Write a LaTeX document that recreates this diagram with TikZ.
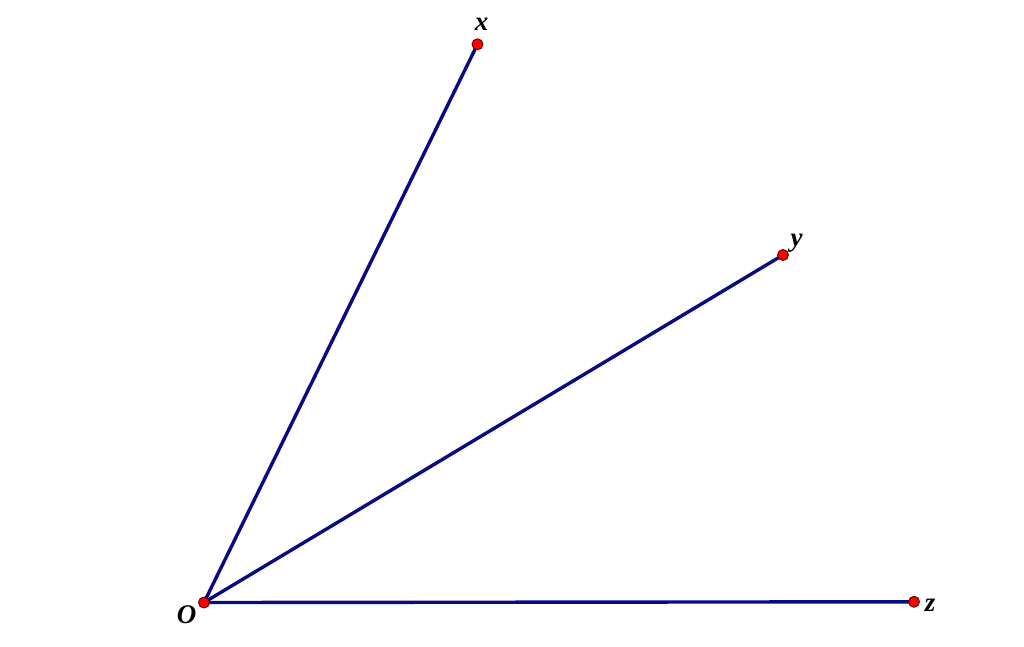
\documentclass[tikz,border=0pt]{standalone}
\usepackage{fontspec}
\setmainfont{Liberation Serif}
\begin{document}
\begin{tikzpicture}[x=1pt,y=-1pt,
  ray/.style={draw={rgb,255:red,10;green,10;blue,130}, line width=3.4pt},
  pt/.style={circle, fill=red, draw={rgb,255:red,90;green,0;blue,0}, line width=0.9pt, inner sep=0pt, minimum size=11pt},
  lbl/.style={font=\fontsize{27}{27}\selectfont\bfseries\itshape, inner sep=0pt}]
\useasboundingbox (0,0) rectangle (1024,647);
\coordinate (O) at (204,602.5);
\coordinate (X) at (477.5,44.3);
\coordinate (Y) at (783,255);
\coordinate (Z) at (914,601.8);
\draw[ray] (O) -- (X);
\draw[ray] (O) -- (Y);
\draw[ray] (O) -- (Z);
\node[pt] (o) at (O) {};
\node[pt] (x) at (X) {};
\node[pt] (y) at (Y) {};
\node[pt] (z) at (Z) {};
\node[lbl] (lo) at (186.5,615) {O};
\node[lbl] (lx) at (481.5,24) {x};
\node[lbl] (ly) at (796.5,243) {y};
\node[lbl] (lz) at (930,605) {z};
\end{tikzpicture}
\end{document}
